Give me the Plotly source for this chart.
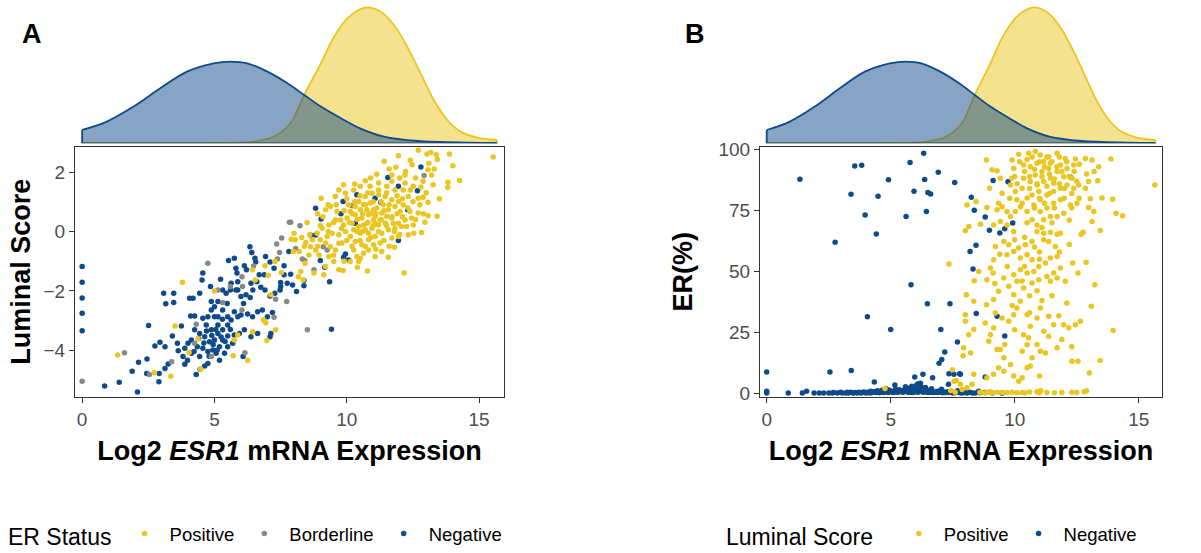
import plotly.graph_objects as go

# ---------------- Panel A data (Log2 ESR1 vs Luminal Score) ----------------
a_negative = [
    (0, -1.18), (0, -1.71), (0, -2.24), (0, -2.75), (0, -3.34),
    (0.85, -5.2), (1.4, -5.07), (2.09, -5.4), (1.89, -4.7), (2.13, -4.4), (2.45, -4.29),
    (2.51, -3.16), (3.08, -2.08), (3.46, -2.08), (3.16, -2.43), (3.46, -2.39), (2.75, -3.85),
    (2.94, -3.73), (3.13, -3.88), (2.9, -5.06), (2.91, -4.78), (2.44, -4.78), (3.13, -4.61),
    (3.25, -4.46), (3.41, -3.52), (3.6, -3.76), (3.75, -3.18), (3.63, -4.01), (3.81, -4.21),
    (3.88, -4.47), (3.98, -4.33), (4.13, -4.1), (4.31, -4.81), (4.46, -4.64), (4.63, -4.53),
    (4.75, -4.44), (4.06, -2.25), (4.19, -2.25), (4.25, -2.84), (4.1, -2.84), (4.44, -2.08),
    (4.56, -1.4), (4.53, -1.63), (4.85, -1.85), (4.88, -2.36), (5.0, -2.53), (5.13, -2.36),
    (5.23, -1.61), (5.31, -1.97), (5.53, -0.98), (5.75, -0.9), (5.81, -1.24), (5.85, -1.4),
    (6.13, -1.15), (6.21, -1.29), (6.34, -0.51), (6.41, -0.71), (6.53, -0.9), (6.56, -1.03),
    (6.93, -0.84), (7.1, -1.03), (7.25, -1.24), (7.63, -1.15), (7.81, -0.67), (7.63, -1.46),
    (7.5, -1.72), (7.48, -1.97), (7.28, -2.08), (7.1, -2.17), (6.91, -1.97), (6.75, -1.88),
    (6.6, -1.69), (6.45, -1.97), (6.35, -2.22), (6.19, -2.13), (6.1, -2.42), (6.0, -2.19),
    (5.88, -1.97), (5.6, -1.97), (5.48, -2.42), (5.75, -2.7), (5.88, -2.87), (6.0, -2.81),
    (6.25, -2.78), (6.44, -2.87), (6.63, -2.7), (6.81, -2.64), (7.0, -2.87), (7.19, -2.73),
    (7.13, -3.43), (7.1, -3.54), (6.63, -3.43), (6.38, -3.54), (6.13, -3.31), (6.08, -4.21),
    (5.69, -3.76), (5.5, -3.52), (5.31, -3.31), (5.13, -3.15), (5.0, -2.87), (4.75, -2.87),
    (4.56, -2.92), (4.69, -3.15), (4.88, -3.31), (5.13, -3.43), (5.31, -3.65), (5.19, -3.88),
    (5.0, -3.65), (4.81, -3.71), (4.63, -3.54), (4.44, -3.43), (4.25, -3.31), (4.13, -3.65),
    (4.35, -3.88), (4.56, -3.93), (4.75, -4.04), (4.94, -3.99), (5.06, -4.1), (5.38, -4.1),
    (5.5, -3.88), (5.75, -3.48), (5.94, -3.43), (5.19, -4.33), (4.44, -4.21), (4.23, -4.04),
    (4.0, -3.76), (3.88, -3.93), (4.88, -2.64), (5.31, -2.64), (5.5, -2.87), (5.63, -2.98),
    (5.5, -3.15), (5.13, -2.87), (5.44, -2.08), (5.63, -1.74), (5.81, -1.97), (5.88, -1.69),
    (6.38, -1.74), (6.69, -1.46), (6.88, -1.46), (7.5, -1.85), (7.75, -1.74),
    (4.9, -3.5), (5.05, -3.3), (4.7, -3.35), (5.25, -3.55), (4.95, -3.8), (5.4, -3.7),
    (4.6, -3.75), (5.1, -4.0), (4.4, -3.6), (5.6, -3.3), (4.8, -4.2), (5.3, -2.95),
    (12.8, 2.17), (11.55, 1.82), (11.95, 1.52), (12.67, 1.37), (11.07, 1.12), (11.28, 0.98),
    (12.3, 0.73), (9.86, 1.01), (10.38, 1.24), (8.82, 0.78), (9.78, 0.6), (9.03, 0.42),
    (8.63, -0.12), (8.82, -0.12), (11.95, -0.3), (9.95, -0.76), (9.88, -0.87), (10.07, -0.96),
    (9.0, -0.98), (9.17, -1.2), (9.35, -1.69), (8.38, -1.65), (8.38, -1.83), (8.1, -2.02),
    (7.95, -1.8), (7.88, -1.44), (9.42, -3.29), (10.32, 0.28),
]

a_borderline = [
    (0, -5.04), (1.6, -4.08), (2.54, -4.81), (3.38, -4.38), (4.75, -1.07), (4.31, -3.12),
    (4.25, -3.76), (4.88, -4.21), (5.13, -1.97), (5.31, -2.39), (5.6, -1.85), (6.04, -1.52),
    (6.06, -1.85), (6.04, -2.64), (6.15, -4.08), (6.48, -1.16), (7.25, -2.89), (7.31, -2.28),
    (7.35, -0.42), (7.46, -0.71), (7.54, -0.22), (7.73, -2.36), (7.83, 0.31), (7.38, -0.93),
    (8.23, 0.19), (7.88, 0.31), (8.07, -0.57), (8.32, -0.93), (8.41, -0.98), (8.76, -1.29),
    (9.11, -0.51), (9.26, -0.62), (10.2, 0.87), (12.92, 1.88), (8.51, -3.31),
]

a_positive = [
    (1.34, -4.16), (2.73, -4.75), (3.35, -4.87), (3.51, -3.18), (3.79, -1.71), (4.04, -4.07),
    (4.38, -3.61), (4.48, -4.64), (5.0, -2.0), (5.75, -3.65), (5.71, -4.18), (5.88, -3.48),
    (6.25, -4.33), (6.44, -1.29), (6.54, -1.63), (6.91, -1.15), (7.03, -1.47), (7.13, -2.13),
    (6.85, -2.98), (6.94, -3.07), (7.31, -3.31), (6.98, -3.67), (6.44, -3.37), (7.29, -1.01),
    (7.53, -1.38), (7.9, -0.26),
    (12.7, 2.73), (13.03, 2.61), (13.17, 2.66), (13.38, 2.58), (13.42, 2.42), (13.88, 2.61),
    (15.53, 2.51), (11.95, 2.55), (11.41, 2.36), (11.85, 2.16), (12.47, 2.25), (12.22, 2.02),
    (13.07, 2.08), (13.3, 2.1), (14.01, 2.21), (14.26, 1.72), (13.82, 1.66), (13.82, 1.49),
    (13.26, 1.57), (12.88, 1.69), (11.13, 1.93), (10.7, 1.71), (9.88, 1.57), (9.57, 1.18),
    (9.03, 1.12), (13.41, 0.51), (13.07, 0.53), (12.95, 0.31), (12.82, -0.03), (12.53, -0.06),
    (11.57, -0.87), (10.78, -1.33), (12.17, -1.4), (9.7, -1.29), (9.86, -1.31), (9.13, -1.46),
    (8.76, -1.4), (8.26, -1.35), (8.42, -1.07), (8.2, -0.67), (7.98, -0.67), (8.45, -0.37),
    (8.01, -0.06), (8.05, -0.28), (8.35, -1.63), (8.17, -1.52), (10.45, -1.01), (10.38, -0.84),
    (10.63, -0.73), (11.32, -0.67), (11.8, -0.53), (11.26, -0.39), (11.01, -0.45), (11.7, -0.22),
    (11.95, -0.17), (12.32, -0.11), (12.07, 0.17), (12.51, 0.22), (12.7, 0.62), (12.76, 0.9),
    (13.07, 0.98), (12.88, 1.15), (12.32, 1.18), (12.7, 1.12), (12.51, 1.52), (12.13, 1.4),
    (12.2, 1.63), (11.7, 1.69), (11.82, 1.4), (11.51, 1.52), (11.2, 1.63), (10.88, 1.52),
    (10.51, 1.52), (10.26, 1.4), (9.95, 1.29), (9.2, 0.73), (9.38, 0.84), (9.63, 0.67),
    (9.57, 0.39), (9.32, 0.22), (9.07, 0.11), (8.88, -0.06), (9.0, -0.28), (9.2, -0.39),
    (9.38, -0.51), (9.57, -0.62), (9.82, -0.39), (9.7, -0.11), (9.95, 0.0), (10.13, -0.17),
    (10.32, -0.34), (10.57, -0.45), (10.82, -0.28), (11.07, -0.17), (11.32, -0.06), (11.57, 0.06),
    (11.82, 0.11), (11.45, 0.28), (11.2, 0.22), (10.95, 0.11), (10.7, 0.06), (10.45, 0.17),
    (10.2, 0.28), (10.01, 0.45), (9.88, 0.22), (10.32, 0.56), (10.57, 0.45), (10.82, 0.56),
    (11.07, 0.51), (11.32, 0.62), (11.57, 0.73), (11.82, 0.84), (12.01, 0.67), (12.2, 0.39),
    (11.7, 0.45), (11.38, 0.9), (11.13, 0.79), (10.88, 0.96), (10.63, 0.9), (10.45, 1.01),
    (10.7, 1.18), (10.95, 1.29), (11.2, 1.24), (11.45, 1.18), (11.7, 1.07), (11.95, 1.01),
    (12.13, 0.9), (12.38, 0.67), (12.45, 0.45), (10.32, 0.84), (10.13, 0.67), (10.07, 0.9),
    (9.76, 0.39), (9.45, -0.06), (9.26, -0.17), (8.7, -0.28), (8.63, -0.51), (8.82, -0.62),
    (8.57, -0.79), (8.95, -0.79), (9.32, -0.84), (9.51, -1.01), (9.2, -1.18), (10.26, -0.62),
    (10.82, -0.62), (11.07, -0.84), (10.51, -0.9), (10.13, -1.01), (11.95, 0.28), (12.26, 0.17),
    (11.07, 0.28), (10.51, 0.73), (10.76, 0.73), (11.01, 0.73), (11.26, 0.39), (11.51, 0.51),
    (11.76, 0.28), (10.76, 0.28), (10.26, 0.06), (10.51, -0.06), (10.82, -0.06), (11.01, 0.39),
    (10.63, 0.22),
    (9.1, 0.5), (9.3, 0.0), (9.5, 0.3), (9.6, 0.9), (9.7, -0.4), (9.8, 0.1), (9.9, 0.7),
    (10.0, -0.3), (10.0, 1.1), (10.1, 0.3), (10.2, -0.5), (10.2, 0.6), (10.3, 1.0), (10.4, 0.0),
    (10.4, 0.4), (10.5, -0.3), (10.5, 1.2), (10.6, 0.6), (10.6, 0.0), (10.7, 0.9), (10.7, -0.5),
    (10.8, 0.3), (10.8, 1.3), (10.9, 0.6), (10.9, -0.2), (11.0, 1.0), (11.0, 0.2), (11.1, -0.6),
    (11.1, 0.6), (11.2, 1.4), (11.2, 0.0), (11.3, 0.4), (11.3, 1.0), (11.4, -0.3), (11.4, 0.7),
    (11.5, 0.2), (11.5, 1.3), (11.6, -0.5), (11.6, 0.9), (11.7, 0.5), (11.7, 1.9), (11.8, 0.0),
    (11.9, 1.2), (11.9, 0.6), (12.0, 1.8), (12.0, -0.1), (12.1, 0.5), (12.1, 1.1), (12.2, 1.9),
    (12.3, 0.8), (12.4, 1.4), (12.5, 1.0), (12.6, 1.8), (12.6, 0.4), (12.8, 1.5), (12.9, 0.6),
    (13.0, 1.3), (13.2, 1.9), (13.5, 1.1), (13.1, 2.3), (12.4, 2.4), (11.6, 2.1), (10.9, 1.8),
    (10.3, 1.6), (9.7, 1.4), (9.3, 0.9), (9.0, 0.2), (8.9, -0.5), (8.6, -0.1), (8.5, 0.3),
    (8.9, 0.6), (9.5, -0.8), (9.9, -1.0), (10.4, -1.2), (8.4, -0.5), (8.3, -0.2),
]

# ---------------- Panel B data (Log2 ESR1 vs ER%) ----------------
b_negative = [
    (0, 8.7), (0, 0.8), (0, 0.0), (0.87, 0), (1.34, 87.8), (1.44, 0), (1.61, 0.8), (1.91, 0),
    (2.12, 0), (2.51, 0), (2.65, 0), (2.85, 0), (2.98, 0.3), (3.19, 0), (3.3, 0), (3.39, 0.3),
    (3.5, 0), (3.59, 0.2), (3.72, 0.4), (3.8, 0), (3.92, 0.5), (4.0, 0), (4.06, 0.3), (4.19, 0.8),
    (4.2, 0), (4.33, 0.6), (4.4, 0.2), (4.46, 1.0), (4.5, 0.4), (4.6, 0.7), (4.7, 0.2), (4.73, 1.0),
    (4.8, 0.5), (4.9, 0.2), (4.93, 1.3), (5.0, 0.6), (5.07, 0.8), (5.1, 0.2), (5.2, 1.6), (5.27, 0.5),
    (5.3, 0.3), (5.4, 1.0), (5.5, 0.3), (5.54, 1.2), (5.6, 0.7), (5.67, 1.5), (5.7, 0.3), (5.8, 0.4),
    (5.81, 1.0), (5.9, 0.2), (5.94, 2.0), (6.0, 0.6), (6.08, 1.5), (6.1, 0.3), (6.2, 0.9), (6.21, 2.8),
    (6.3, 0.3), (6.34, 1.8), (6.4, 0.5), (6.48, 0.8), (6.5, 0.2), (6.6, 0.4), (6.61, 1.0), (6.7, 0.2),
    (6.75, 0.5), (6.88, 0.8), (6.9, 0.2), (7.0, 1.0), (7.02, 0.3), (7.1, 0.1), (7.15, 0.5), (7.3, 0.6),
    (7.35, 0.2), (7.49, 0.4), (7.5, 0.0), (7.69, 0.3), (7.8, 0.1), (8.0, 0.2), (8.3, 0.0), (8.6, 0.1),
    (9.1, 0.0), (9.5, 0.0), (6.05, 3.3), (6.2, 4.0), (5.85, 2.8), (6.4, 2.3), (5.6, 2.5), (4.8, 1.9),
    (2.3, 0), (2.7, 0.2), (3.05, 0), (3.25, 0.4), (3.45, 0.1), (3.65, 0), (3.85, 0.2), (4.1, 0.1),
    (4.25, 0.4), (4.55, 0.1), (4.65, 1.2), (4.85, 0.8), (5.15, 0.4), (5.35, 1.4), (5.45, 0.6),
    (5.75, 2.0), (5.95, 1.2), (6.15, 2.2), (6.25, 1.2), (6.45, 1.4), (6.55, 0.6), (6.65, 1.8),
    (6.8, 0.3), (6.95, 0.6), (7.05, 1.6), (7.2, 0.2), (7.4, 0.8), (7.6, 0.1), (7.7, 1.0),
    (7.9, 0.4), (8.2, 0.3), (8.8, 0.2),
    (2.55, 8.7), (3.41, 9.3), (2.76, 62), (3.4, 81.7), (3.55, 93.3), (3.83, 93.6), (3.97, 73.2),
    (4.06, 31.4), (4.34, 4.6), (4.42, 65.4), (4.49, 80.9), (4.91, 87.6), (5.0, 26.1), (5.17, 3.3),
    (5.62, 72.5), (5.78, 94.7), (5.82, 44.5), (5.94, 82.9), (5.97, 6.6), (6.3, 7.7), (6.33, 98.5),
    (6.37, 87.7), (6.44, 74.6), (6.48, 36.7), (6.5, 82.4), (6.61, 81.8), (6.69, 6.3), (6.92, 90.7),
    (7.02, 26.1), (6.95, 12.3), (7.06, 13.8), (7.18, 16.9), (7.33, 3.6), (7.39, 36.7), (7.58, 86.5),
    (7.69, 21), (7.35, 7.9), (7.55, 7.7), (7.78, 7.9), (6.11, 3.8), (6.05, 2.5), (5.6, 2.5),
    (7.81, 7.7), (8.25, 80.5), (8.37, 75.1), (8.2, 58.2), (8.44, 60.7), (8.32, 51), (8.45, 32.7),
    (8.81, 72.3), (8.98, 66.9), (9.13, 87.3), (9.29, 31.6), (9.4, 65.8), (9.6, 67.5), (9.6, 23.5),
    (9.92, 69.9), (9.73, 86.8), (12.24, 88.8), (8.81, 6.6), (9.49, 0), (8.55, 0.8), (8.41, 0),
    (8.08, 0), (7.88, 0),
]

b_positive = [
    (7.35, 53), (7.92, 15.3), (7.49, 9.6), (7.56, 4.9), (7.65, 5.2), (4.77, 1.9), (7.42, 1.1),
    (8.86, 95.8), (8.08, 77.3), (8.44, 78.7), (8.01, 66.7), (8.15, 68.4), (8.62, 69.4), (8.88, 76.2),
    (8.99, 84.2), (9.09, 91.7), (9.29, 91.3), (9.42, 88.3), (9.49, 82.1), (9.35, 78), (9.29, 75.3),
    (9.49, 76.6), (9.69, 74.6), (9.83, 72.5), (9.15, 69.1), (9.42, 70.5), (9.69, 69.1), (9.96, 66.4),
    (10.16, 98.1), (9.89, 95.8), (9.96, 92.3), (9.89, 88.3), (9.83, 85.5), (10.03, 82.8), (10.09, 79.4),
    (10.3, 84.2), (10.36, 88.3), (10.36, 93.7), (10.56, 98.5), (10.83, 99.2), (11.03, 97.8),
    (11.37, 97.1), (11.71, 98.5), (12.04, 96.4), (12.45, 96.2), (12.85, 96.4), (13.12, 95.8),
    (13.88, 96.2), (13.39, 93), (12.98, 86.9), (13.35, 87.2), (12.85, 84.2), (12.58, 85.5),
    (12.38, 84.2), (13.52, 80.1), (13.95, 79.6), (14.09, 73.9), (14.35, 72.9), (15.65, 85.5),
    (13.05, 79.8), (12.98, 76.2), (13.19, 74.6), (13.12, 70.5), (13.45, 66.8), (12.76, 66.1),
    (12.68, 65.3), (12.51, 78), (12.24, 77.3), (11.98, 73.9), (11.71, 72.5), (11.44, 72.5),
    (11.17, 71.2), (10.9, 69.1), (10.7, 71.2), (10.5, 74.6), (10.77, 77.3), (11.03, 79.4),
    (11.3, 81.4), (11.57, 82.8), (11.84, 84.2), (12.11, 85.5), (12.31, 88.3), (11.98, 88.9),
    (11.71, 91), (11.37, 92.3), (11.1, 91), (10.83, 89.6), (10.63, 86.9), (10.9, 85.5),
    (11.17, 86.9), (11.44, 88.3), (11.57, 86.2), (11.84, 93.7), (12.11, 92.3), (12.38, 93.7),
    (11.44, 94.4), (11.17, 95.1), (10.9, 94.4), (10.63, 93), (10.97, 82.8), (10.7, 81.4),
    (10.5, 80.1), (11.57, 78), (11.84, 79.4), (11.3, 76), (11.03, 74.6), (10.23, 76.6),
    (10.03, 74.6), (10.9, 66.4), (11.17, 65.7), (11.44, 66.1), (11.71, 65.3), (11.84, 65.7),
    (11.17, 63), (11.37, 62.3), (11.64, 60.2), (11.71, 56.1), (11.44, 55.5), (11.24, 53.4),
    (10.7, 62.3), (10.43, 60.9), (10.16, 59.6), (9.96, 58.2), (9.76, 60.9), (9.56, 62.3),
    (9.22, 60.2), (9.69, 56.8), (10.23, 55.5), (10.5, 56.8), (10.7, 54.8), (10.97, 52),
    (10.77, 50), (10.5, 49.3), (10.23, 50.7), (9.96, 48.6), (9.56, 47.3), (9.15, 54.8),
    (9.02, 51.4), (9.13, 49.3), (8.88, 46.6), (8.55, 50), (8.37, 46.2), (8.05, 40.4),
    (8.35, 37.7), (8.86, 36.3), (9.15, 38.4), (9.35, 41.8), (9.76, 43.9), (10.09, 45.9),
    (10.36, 43.2), (10.7, 45.2), (10.97, 46.6), (11.3, 47.9), (11.57, 49.3), (11.44, 45.9),
    (11.71, 47.3), (11.84, 51.4), (12.04, 45.9), (12.34, 53.4), (12.55, 49.3), (12.88, 53.8),
    (13.23, 44.5), (9.96, 40.4), (10.23, 37.7), (10.09, 35), (9.96, 32.2), (9.76, 29.5),
    (9.49, 30.9), (9.22, 32.9), (8.81, 28.8), (8.01, 32.2), (8.01, 29.5), (8.35, 26.1),
    (8.15, 24), (7.94, 18.6), (8.22, 16.5), (9.02, 24), (9.15, 26.8), (8.95, 21.3), (9.29, 17.9),
    (9.42, 17.9), (10.36, 24), (10.63, 27.5), (10.9, 30.9), (11.37, 31.6), (11.03, 35),
    (10.5, 32.2), (11.57, 28.1), (11.78, 31.8), (11.98, 28.1), (12.18, 26.8), (12.45, 28.1),
    (12.65, 29.5), (13.97, 25.7), (13.09, 35.7), (10.56, 22.7), (10.5, 19.9), (10.3, 17.2),
    (10.7, 14.5), (10.63, 11.1), (11.03, 17.2), (11.24, 16.5), (11.71, 18.6), (11.17, 25.4),
    (11.37, 23.4), (12.31, 13.1), (12.55, 13.1), (13.45, 13.4), (13.01, 8.3), (9.56, 14.5),
    (9.83, 11.7), (9.56, 9), (9.35, 10.4), (9.96, 7), (10.16, 4.9), (10.3, 6.3), (11.0, 7),
    (10.5, 10.4), (9.15, 7.7), (8.88, 6.3), (8.35, 7.7), (8.28, 3.6), (8.08, 2.2), (7.81, 3.6),
    (7.88, 1.5), (8.9, 0.2), (9.1, 0.1), (9.3, 0.3), (9.5, 0.1), (9.7, 0.2), (9.9, 0.4),
    (10.1, 0.1), (10.3, 0.2), (10.4, 0.0), (10.6, 0.5), (10.9, 0.6), (11.0, 0.1), (11.3, 0.2),
    (11.6, 0.1), (11.9, 0.2), (12.3, 0.4), (12.5, 0.2), (12.8, 0.6), (12.9, 1.0), (11.05, 1.1),
    (10.95, 0.3), (9.0, 0.6), (8.6, 0.3), (8.8, 0.0), (7.6, 0.3),
    (10.2, 95), (10.4, 91), (10.5, 96), (10.6, 89), (10.7, 97), (10.8, 92), (10.9, 86), (11.0, 95),
    (11.1, 89), (11.2, 93), (11.3, 97), (11.3, 85), (11.4, 90), (11.5, 95), (11.6, 88), (11.7, 93),
    (11.8, 86), (11.8, 97), (11.9, 91), (12.0, 84), (12.1, 95), (12.2, 89), (12.3, 82), (12.4, 91),
    (12.5, 87), (12.6, 94), (11.0, 80), (11.2, 78), (11.6, 76), (12.0, 80), (12.3, 76), (10.6, 84),
    (10.3, 78), (10.8, 76), (11.4, 82), (10.1, 86), (10.0, 89), (9.8, 80), (10.5, 70), (11.1, 68),
    (10.8, 60), (11.0, 58), (10.4, 64), (10.0, 63), (11.5, 70), (12.2, 71), (12.6, 80), (12.9, 90),
    (13.2, 91), (10.6, 40), (10.9, 42), (10.3, 46), (11.1, 38), (10.4, 52), (11.0, 55), (9.7, 52),
    (9.4, 57), (11.8, 58), (12.2, 61), (9.9, 36), (10.6, 33), (11.5, 40), (12.1, 37), (9.6, 20),
    (10.0, 26), (10.9, 20), (9.2, 45), (11.9, 22), (12.3, 19),
]

# ---------------- Marginal densities (read from the top strips) ----------------
dens_neg_x = [0, 0.93, 1.94, 2.95, 3.96, 4.97, 5.6, 6.24, 7.0, 7.76, 8.39, 9.02, 9.78,
              10.5, 11.4, 12.7, 14.6, 15.67]
dens_neg_y = [0.0256, 0.0417, 0.0706, 0.1058, 0.1379, 0.1538, 0.1571, 0.1538, 0.1379,
              0.1154, 0.0929, 0.0706, 0.0481, 0.0288, 0.0129, 0.0044, 0.0013, 0.0006]
dens_pos_x = [0, 4.97, 6.48, 7.24, 7.87, 8.39, 9.02, 9.52, 10.02, 10.5, 10.77, 11.27,
              11.78, 12.28, 12.79, 13.29, 13.8, 14.3, 14.93, 15.67]
dens_pos_y = [0, 0.0006, 0.0033, 0.0129, 0.0385, 0.0929, 0.1538, 0.2052, 0.2404, 0.2577,
              0.2615, 0.2533, 0.2275, 0.186, 0.1346, 0.0833, 0.0448, 0.0225, 0.011, 0.0063]

x_ticks = [0, 5, 10, 15]
a_y_ticks = [-4, -2, 0, 2]
b_y_ticks = [0, 25, 50, 75, 100]

YELLOW = "#EBC520"
BLUE = "#0F4A8A"
GRAY = "#888888"
FONT = "Liberation Sans, Arial, sans-serif"

W, H = 1201, 553


def px_x(p):
    return p / W


def px_y(p):
    return 1 - p / H


def xs(pts):
    return [p[0] for p in pts]


def ys(pts):
    return [p[1] for p in pts]


fig = go.Figure()

# Panel A scatter
for name, pts, col, rank in [("Negative", a_negative, BLUE, 3),
                              ("Borderline", a_borderline, GRAY, 2),
                              ("Positive", a_positive, YELLOW, 1)]:
    fig.add_trace(go.Scatter(x=xs(pts), y=ys(pts), mode="markers", name=name,
                             marker=dict(color=col, size=5.5, line=dict(width=0)),
                             xaxis="x", yaxis="y", legend="legend", legendrank=rank))

# Panel B scatter
for name, pts, col, rank in [("Negative", b_negative, BLUE, 2),
                              ("Positive", b_positive, YELLOW, 1)]:
    fig.add_trace(go.Scatter(x=xs(pts), y=ys(pts), mode="markers", name=name,
                             marker=dict(color=col, size=5.5, line=dict(width=0)),
                             xaxis="x3", yaxis="y3", legend="legend2", legendrank=rank))

# densities (both panels)
for xa, ya in [("x2", "y2"), ("x4", "y4")]:
    for dx, dy, col, fill in [(dens_pos_x, dens_pos_y, YELLOW, "rgba(235,197,32,0.5)"),
                              (dens_neg_x, dens_neg_y, BLUE, "rgba(15,74,138,0.5)")]:
        fig.add_trace(go.Scatter(x=dx, y=dy, mode="lines", fill="tozeroy", fillcolor=fill,
                                 line=dict(color=col, width=1.8, shape="spline"),
                                 xaxis=xa, yaxis=ya, showlegend=False, cliponaxis=False,
                                 hoverinfo="skip"))
        fig.add_trace(go.Scatter(x=[dx[0], dx[0], dx[-1], dx[-1]], y=[dy[0], 0, 0, dy[-1]],
                                 mode="lines", line=dict(color=col, width=1.8),
                                 xaxis=xa, yaxis=ya, showlegend=False, cliponaxis=False,
                                 hoverinfo="skip"))

tickfont = dict(family=FONT, size=19, color="#4D4D4D")
titlefont = dict(family=FONT, size=27, color="black", weight="bold")
xrange = [-0.27, 15.94]
scatter_y_dom = [px_y(397), px_y(146.5)]
dens_y_dom = [px_y(143.3), px_y(5)]
a_x_dom = [px_x(75), px_x(504)]
b_x_dom = [px_x(760), px_x(1162)]

common_x = dict(range=xrange, tickvals=x_ticks, ticks="outside", ticklen=5, tickwidth=1.2,
                tickcolor="#333333", showline=True, linecolor="#333333", linewidth=1.2,
                mirror=True, showgrid=False, zeroline=False, tickfont=tickfont, automargin=False,
                title=dict(text="Log2 <i>ESR1</i> mRNA Expression", font=titlefont, standoff=12))
common_y = dict(ticks="outside", ticklen=5, tickwidth=1.2, tickcolor="#333333", showline=True,
                linecolor="#333333", linewidth=1.2, mirror=True, showgrid=False, zeroline=False,
                tickfont=tickfont, automargin=False)
dens_x_ax = dict(range=xrange, visible=False, showgrid=False, zeroline=False, automargin=False)
dens_y_ax = dict(range=[0, 0.266], visible=False, showgrid=False, zeroline=False,
                 automargin=False)

fig.update_layout(
    width=W, height=H, margin=dict(l=0, r=0, t=0, b=0, autoexpand=False),
    plot_bgcolor="white", paper_bgcolor="white",
    font=dict(family=FONT),
    xaxis=dict(common_x, domain=a_x_dom, anchor="y"),
    yaxis=dict(common_y, domain=scatter_y_dom, anchor="x", range=[-5.57, 2.86],
               tickvals=a_y_ticks,
               title=dict(text="Luminal Score", font=titlefont, standoff=4)),
    xaxis2=dict(dens_x_ax, domain=a_x_dom, anchor="y2"),
    yaxis2=dict(dens_y_ax, domain=dens_y_dom, anchor="x2"),
    xaxis3=dict(common_x, domain=b_x_dom, anchor="y3"),
    yaxis3=dict(common_y, domain=scatter_y_dom, anchor="x3", range=[-1.6, 101.3],
                tickvals=b_y_ticks,
                title=dict(text="ER(%)", font=titlefont, standoff=17)),
    xaxis4=dict(dens_x_ax, domain=b_x_dom, anchor="y4"),
    yaxis4=dict(dens_y_ax, domain=dens_y_dom, anchor="x4"),
    legend=dict(orientation="h", x=px_x(6), y=px_y(535), xanchor="left", yanchor="middle",
                xref="container", yref="container", itemwidth=40, valign="middle",
                title=dict(text="ER Status", side="left",
                           font=dict(family=FONT, size=23, color="black")),
                font=dict(family=FONT, size=18.5, color="black"), bgcolor="rgba(0,0,0,0)"),
    legend2=dict(orientation="h", x=px_x(724), y=px_y(535), xanchor="left", yanchor="middle",
                 xref="container", yref="container", itemwidth=40, valign="middle",
                 title=dict(text="Luminal Score&nbsp;&nbsp;", side="left",
                            font=dict(family=FONT, size=23, color="black")),
                 font=dict(family=FONT, size=18.5, color="black"), bgcolor="rgba(0,0,0,0)"),
    annotations=[
        dict(text="<b>A</b>", x=px_x(31.5), y=px_y(34), xref="paper", yref="paper",
             showarrow=False, font=dict(family=FONT, size=27, color="black"),
             xanchor="center", yanchor="middle"),
        dict(text="<b>B</b>", x=px_x(695), y=px_y(34), xref="paper", yref="paper",
             showarrow=False, font=dict(family=FONT, size=27, color="black"),
             xanchor="center", yanchor="middle"),
    ],
)

fig.write_html("out.html", config={"displayModeBar": False},
               post_script="document.body.style.margin='0px';")
